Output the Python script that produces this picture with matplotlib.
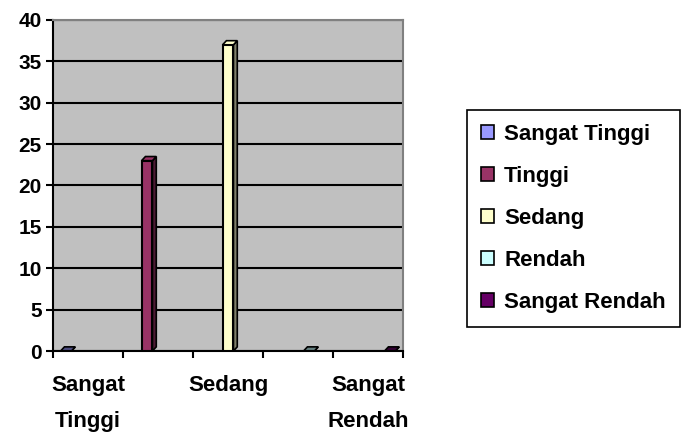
import numpy as np
import matplotlib.pyplot as plt
from matplotlib.patches import Patch

# Data
kategori = ["Sangat Tinggi", "Tinggi", "Sedang", "Rendah", "Sangat Rendah"]
nilai = [0, 23, 37, 0, 0]
warna = ["#9999FF", "#993366", "#FFFFCC", "#CCFFFF", "#660066"]
warna_sisi = ["#4d4d80", "#4d1a33", "#80806a", "#668080", "#330033"]
label_x = ["Sangat\nTinggi", "Sedang", "Sangat\nRendah"]
posisi_label = [0, 2, 4]

plt.rcParams['font.family'] = ['Liberation Sans', 'DejaVu Sans']
plt.rcParams['font.weight'] = 'bold'

fig = plt.figure(figsize=(6.84, 4.36), dpi=100)
ax = fig.add_axes([53 / 684, 85 / 436, 350 / 684, 331 / 436])
ax.set_facecolor("#C0C0C0")

lebar = 0.155
langkah = 0.157
dx, dy = 0.055, 0.5
x = np.arange(len(kategori))
for i, v in enumerate(nilai):
    xi = x[i] + (i - 2) * langkah
    kiri, kanan = xi - lebar / 2, xi + lebar / 2
    # sisi kanan dan atas (efek 3D)
    ax.fill([kanan, kanan + dx, kanan + dx, kanan], [0, dy, v + dy, v],
            facecolor=warna_sisi[i], edgecolor="black", linewidth=1.2, zorder=3)
    ax.fill([kiri, kanan, kanan + dx, kiri + dx], [v, v, v + dy, v + dy],
            facecolor=warna_sisi[i] if v == 0 else warna[i], edgecolor="black",
            linewidth=1.2, zorder=3)
    ax.bar(xi, v, lebar, color=warna[i], edgecolor="black", linewidth=1.5, zorder=4)

ax.set_xlim(-0.5, 4.5)
ax.set_ylim(0, 40)
ax.set_yticks(range(0, 41, 5))
ax.yaxis.grid(True, color="black", linewidth=1.5, zorder=1)
ax.set_axisbelow(True)

ax.set_xticks(np.arange(-0.5, 5, 1))
ax.set_xticklabels([])
ax.set_xticks(posisi_label, minor=True)
ax.set_xticklabels(label_x, minor=True, fontsize=16, fontweight="bold", linespacing=1.95)
ax.tick_params(axis="x", which="minor", length=0, pad=17)
ax.tick_params(axis="x", which="major", length=5, width=1.5, direction="out")
ax.tick_params(axis="y", length=5, width=1.5, direction="out", labelsize=15, pad=3)
for t in ax.get_yticklabels():
    t.set_fontweight("bold")

ax.spines["left"].set_linewidth(1.5)
ax.spines["bottom"].set_linewidth(1.5)
ax.spines["top"].set_color("#808080")
ax.spines["right"].set_color("#808080")
ax.spines["top"].set_linewidth(1.5)
ax.spines["right"].set_linewidth(1.5)

handles = [Patch(facecolor=c, edgecolor="black", linewidth=1.2) for c in warna]
leg = fig.legend(handles, kategori, loc="upper left",
                 bbox_to_anchor=(467 / 684, 1 - 110 / 436),
                 prop={"weight": "bold", "size": 16}, frameon=True, fancybox=False,
                 edgecolor="black", framealpha=1, handlelength=0.6, handleheight=0.6,
                 handletextpad=0.45, labelspacing=0.95, borderpad=0.62, borderaxespad=0)
leg.get_frame().set_linewidth(1.2)

fig.savefig("out.png", dpi=100)
